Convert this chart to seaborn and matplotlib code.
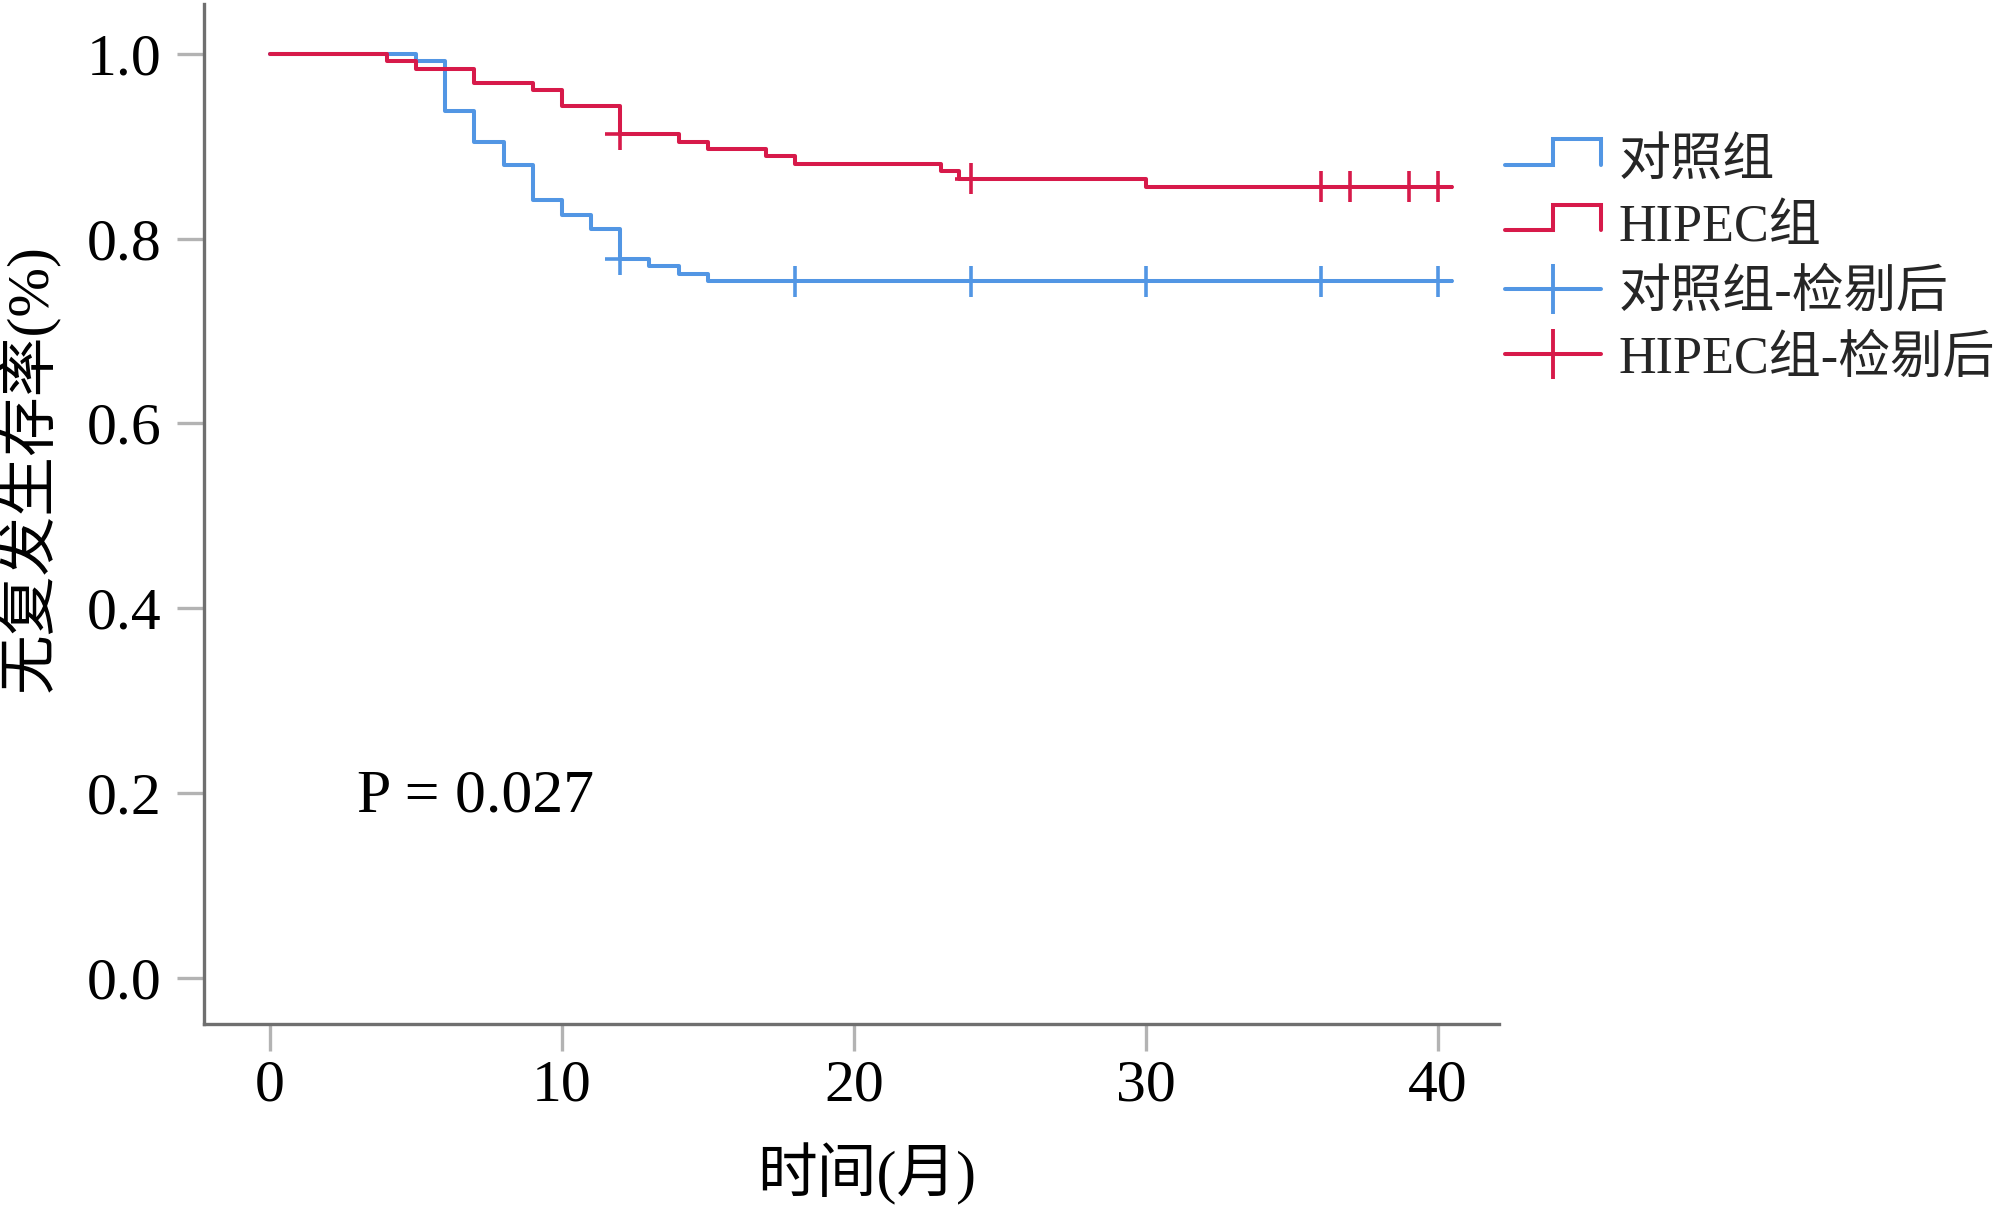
import numpy as np
import pandas as pd
import matplotlib
matplotlib.use("Agg")
import matplotlib.pyplot as plt
from matplotlib.lines import Line2D
from matplotlib.legend_handler import HandlerBase
import seaborn as sns

# ---------------- data ----------------
groups = ["对照组", "HIPEC组"]
ctrl_times = [0, 5, 6, 7, 8, 9, 10, 11, 12, 13, 14, 15, 40.5]
ctrl_surv = [1.0, 0.992, 0.938, 0.905, 0.880, 0.842, 0.826, 0.810, 0.778, 0.770, 0.762, 0.754, 0.754]
hipec_times = [0, 4, 5, 7, 9, 10, 12, 14, 15, 17, 18, 23, 23.6, 30, 40.5]
hipec_surv = [1.0, 0.992, 0.984, 0.969, 0.961, 0.944, 0.913, 0.905, 0.897, 0.889, 0.881, 0.873, 0.865, 0.856, 0.856]
ctrl_cens = [12, 18, 24, 30, 36, 40]
hipec_cens = [12, 24, 36, 37, 39, 40]
x_ticks = [0, 10, 20, 30, 40]
y_ticks = [0.0, 0.2, 0.4, 0.6, 0.8, 1.0]
legend_labels = ["对照组", "HIPEC组", "对照组-检剔后", "HIPEC组-检剔后"]
p_text = "P = 0.027"
x_label = "时间(月)"
y_label = "无复发生存率(%)"

colors = {"对照组": "#5296e4", "HIPEC组": "#d71a4a"}

# ---------------- frames ----------------
def step_value(times, surv, t):
    idx = np.searchsorted(np.asarray(times), t, side="right") - 1
    return np.asarray(surv)[idx]

curve_df = pd.concat([
    pd.DataFrame({"time": ctrl_times, "surv": ctrl_surv, "group": groups[0]}),
    pd.DataFrame({"time": hipec_times, "surv": hipec_surv, "group": groups[1]}),
], ignore_index=True)

cens_df = pd.concat([
    pd.DataFrame({"time": ctrl_cens, "surv": step_value(ctrl_times, ctrl_surv, ctrl_cens), "group": groups[0]}),
    pd.DataFrame({"time": hipec_cens, "surv": step_value(hipec_times, hipec_surv, hipec_cens), "group": groups[1]}),
], ignore_index=True)

# ---------------- style ----------------
sns.set_theme(style="white")
plt.rcParams["font.family"] = ["Liberation Serif", "Noto Sans CJK SC"]
plt.rcParams["axes.unicode_minus"] = False

fig = plt.figure(figsize=(20, 12.07), dpi=100)
ax = fig.add_axes([0.102, 0.1516, 0.6475, 0.8451])

sns.lineplot(data=curve_df, x="time", y="surv", hue="group", palette=colors,
             drawstyle="steps-post", estimator=None, sort=True, legend=False,
             linewidth=2.9, ax=ax)
sns.scatterplot(data=cens_df, x="time", y="surv", hue="group", palette=colors,
                marker="+", s=500, linewidth=2.6, legend=False, ax=ax, zorder=3)

ax.set_xlim(-2.26, 42.1)
ax.set_ylim(-0.05, 1.054)
ax.set_xticks(x_ticks)
ax.set_xticklabels([str(v) for v in x_ticks])
ax.set_yticks(y_ticks)
ax.set_yticklabels([f"{v:.1f}" for v in y_ticks])

for side in ["top", "right"]:
    ax.spines[side].set_visible(False)
for side in ["left", "bottom"]:
    ax.spines[side].set_color("#6f6f6f")
    ax.spines[side].set_linewidth(2.4)

ax.tick_params(axis="both", which="major", direction="out", length=19.5, width=2.4,
               color="#b3b3b3", labelsize=43, labelcolor="black",
               bottom=True, left=True)
ax.tick_params(axis="y", pad=11)
ax.tick_params(axis="x", pad=6)

ax.set_xlabel(x_label, fontsize=43, color="black")
ax.set_ylabel(y_label, fontsize=43, color="black")
ax.xaxis.label.set_va("center")
ax.yaxis.label.set_va("center")
ax.xaxis.set_label_coords(0.512, -0.147)
ax.yaxis.set_label_coords(-0.136, 0.545)

ax.text(0.118, 0.208, p_text, transform=ax.transAxes, fontsize=44.5,
        color="black", ha="left", va="baseline")

# ---------------- legend ----------------
class StepHandler(HandlerBase):
    def create_artists(self, legend, orig_handle, xdescent, ydescent,
                       width, height, fontsize, trans):
        x0 = -xdescent
        y0 = -ydescent
        xs = [x0, x0 + width * 0.5, x0 + width * 0.5, x0 + width, x0 + width]
        lo = y0 + height * 0.3
        hi = y0 + height * 1.0
        ys = [lo, lo, hi, hi, lo]
        line = Line2D(xs, ys, color=orig_handle.get_color(),
                      linewidth=orig_handle.get_linewidth(), transform=trans,
                      solid_joinstyle="miter")
        return [line]

h_ctrl = Line2D([], [], color=colors[groups[0]], linewidth=2.9)
h_hip = Line2D([], [], color=colors[groups[1]], linewidth=2.9)
h_ctrl_c = Line2D([], [], color=colors[groups[0]], linewidth=2.9, marker="|",
                  markersize=36, markeredgewidth=2.8)
h_hip_c = Line2D([], [], color=colors[groups[1]], linewidth=2.9, marker="|",
                 markersize=36, markeredgewidth=2.8)

leg = fig.legend([h_ctrl, h_hip, h_ctrl_c, h_hip_c], legend_labels,
                 handler_map={h_ctrl: StepHandler(), h_hip: StepHandler()},
                 loc="upper left", bbox_to_anchor=(0.7525, 0.885),
                 frameon=False, fontsize=37.5, handlelength=1.85,
                 handletextpad=0.33, labelspacing=0.33, borderpad=0,
                 borderaxespad=0)

fig.savefig("out.png", dpi=100)
